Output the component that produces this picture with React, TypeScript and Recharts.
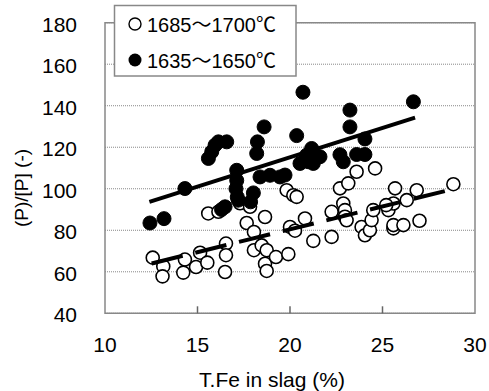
import React from "react";
import { ScatterChart, Scatter, XAxis, YAxis, CartesianGrid, ReferenceArea } from "recharts";

const xTicks = [10, 15, 20, 25, 30];
const yTicks = [40, 60, 80, 100, 120, 140, 160, 180];

const legendLabels = ["1685～1700℃", "1635～1650℃"];
const xAxisLabel = "T.Fe in slag (%)";
const yAxisLabel = "(P)/[P] (-)";

// 1685~1700°C (open circles)
const openX = [12.58, 13.15, 13.11, 14.32, 14.23, 14.92, 15.14, 15.53, 15.58, 16.13, 16.54, 16.54, 16.49, 17.3, 17.84, 17.66, 18.05, 18.05, 18.65, 18.47, 18.74, 18.65, 18.74, 19.24, 19.91, 20.0, 20.27, 20.81, 21.26, 19.82, 20.18, 20.36, 22.25, 22.25, 22.7, 23.15, 22.88, 22.97, 22.97, 23.06, 23.6, 24.6, 23.87, 24.05, 24.32, 24.41, 24.5, 25.32, 25.59, 25.68, 25.59, 25.59, 26.13, 26.31, 26.85, 27.0, 28.83, 25.2];
const openY = [66.8, 62.6, 57.8, 65.9, 59.6, 62.3, 69.2, 64.4, 88.1, 88.9, 73.6, 68.0, 59.9, 93.0, 91.3, 83.5, 79.2, 70.4, 86.4, 72.7, 70.4, 63.9, 60.4, 67.1, 68.5, 81.6, 79.8, 85.7, 74.9, 99.3, 96.9, 96.1, 88.9, 76.8, 100.2, 102.6, 92.9, 89.7, 86.5, 84.8, 108.2, 109.8, 81.6, 77.6, 80.0, 84.9, 89.7, 89.7, 92.9, 100.2, 80.9, 82.5, 82.5, 94.5, 99.3, 84.6, 102.2, 92.1];

// 1635~1650°C (filled circles)
const filledX = [12.43, 13.19, 14.32, 15.59, 15.77, 15.95, 16.13, 16.58, 16.49, 16.3, 17.12, 17.12, 17.08, 17.15, 17.2, 18.02, 17.87, 18.2, 18.24, 18.6, 18.38, 18.92, 19.46, 19.73, 20.36, 20.7, 20.54, 20.9, 21.17, 21.26, 21.62, 22.7, 22.88, 23.24, 23.24, 23.6, 24.05, 24.05, 26.67, 21.0];
const filledY = [83.5, 85.6, 100.1, 114.6, 117.8, 121.0, 122.6, 122.6, 91.3, 90.0, 108.9, 104.0, 100.0, 96.0, 94.5, 98.0, 93.7, 117.0, 122.6, 129.8, 105.7, 106.5, 105.7, 106.6, 125.6, 146.5, 112.2, 116.2, 119.4, 112.2, 115.4, 116.4, 113.0, 137.9, 129.8, 116.5, 124.0, 116.5, 141.9, 113.0];

// trend lines
const openFitX = [12.52, 28.92];
const openFitY = [64.0, 100.1];
const filledFitX = [12.4, 26.76];
const filledFitY = [93.7, 134.3];

const zip = (xs: number[], ys: number[]) => xs.map((x, i) => ({ x, y: ys[i] }));
const openData = zip(openX, openY);
const filledData = zip(filledX, filledY);
const openFit = zip(openFitX, openFitY);
const filledFit = zip(filledFitX, filledFitY);

const FONT = "'Liberation Sans', Arial, 'Noto Sans CJK JP', sans-serif";

const OpenDot = (p: any) => (
  <circle cx={p.cx} cy={p.cy} r={6.5} fill="#fff" stroke="#000" strokeWidth={1.6} />
);
const FilledDot = (p: any) => <circle cx={p.cx} cy={p.cy} r={7} fill="#000" stroke="#000" strokeWidth={1} />;
const NoDot = () => <g />;

const XTick = (p: any) => {
  const v = p.payload.value;
  const inner = v !== 10 && v !== 30;
  return (
    <g>
      {inner && <line x1={p.x} x2={p.x} y1={p.y - 7} y2={p.y} stroke="#666" strokeWidth={1.5} />}
      <text x={p.x} y={p.y + 39} textAnchor="middle" fontSize={21} fontFamily={FONT} fill="#000">
        {v}
      </text>
    </g>
  );
};

const YTick = (p: any) => (
  <text x={77} y={p.y + 1.5} textAnchor="end" dominantBaseline="central" fontSize={21} fontFamily={FONT} fill="#000">
    {p.payload.value}
  </text>
);

export default function App() {
  return (
    <div style={{ position: "absolute", left: 0, top: 0, width: 489, height: 391, background: "#fff" }}>
      <ScatterChart width={489} height={391} margin={{ top: 22.7, right: 14, left: 0, bottom: 0 }}>
        <CartesianGrid horizontal vertical={false} stroke="#888" strokeDasharray="1 1" />
        <XAxis
          type="number"
          dataKey="x"
          domain={[10, 30]}
          ticks={xTicks}
          height={77.7}
          axisLine={false}
          tickLine={false}
          tickSize={0}
          tickMargin={0}
          tick={<XTick />}
          interval={0}
          allowDataOverflow
        />
        <YAxis
          type="number"
          dataKey="y"
          domain={[40, 180]}
          ticks={yTicks}
          width={105}
          axisLine={false}
          tickLine={false}
          tick={<YTick />}
          interval={0}
          allowDataOverflow
        />
        <ReferenceArea x1={10} x2={30} y1={40} y2={180} fill="none" stroke="#888" strokeWidth={1.5} ifOverflow="visible" />
        <Scatter data={openData} shape={<OpenDot />} isAnimationActive={false} />
        <Scatter data={filledData} shape={<FilledDot />} isAnimationActive={false} />
        <Scatter
          data={openFit}
          shape={<NoDot />}
          line={{ stroke: "#000", strokeWidth: 4, strokeDasharray: "32 13" }}
          isAnimationActive={false}
        />
        <Scatter data={filledFit} shape={<NoDot />} line={{ stroke: "#000", strokeWidth: 4 }} isAnimationActive={false} />
      </ScatterChart>
      <svg width={489} height={391} style={{ position: "absolute", left: 0, top: 0, pointerEvents: "none" }}>
        <text x={272} y={387} textAnchor="middle" fontSize={21} fontFamily={FONT} fill="#000">
          {xAxisLabel}
        </text>
        <text
          x={21}
          y={188}
          textAnchor="middle"
          dominantBaseline="central"
          fontSize={19}
          fontFamily={FONT}
          fill="#000"
          transform="rotate(-90 21 188)"
        >
          {yAxisLabel}
        </text>
        <rect x={114.5} y={5.5} width={181.5} height={70.5} fill="#fff" stroke="#888" strokeWidth={1.5} />
        <circle cx={135} cy={24} r={6} fill="#fff" stroke="#000" strokeWidth={1.4} />
        <text x={147} y={24.5} dominantBaseline="central" fontSize={20} fontFamily={FONT} fill="#000">
          {legendLabels[0]}
        </text>
        <circle cx={135} cy={60} r={6.5} fill="#000" />
        <text x={147} y={60.5} dominantBaseline="central" fontSize={20} fontFamily={FONT} fill="#000">
          {legendLabels[1]}
        </text>
      </svg>
    </div>
  );
}
